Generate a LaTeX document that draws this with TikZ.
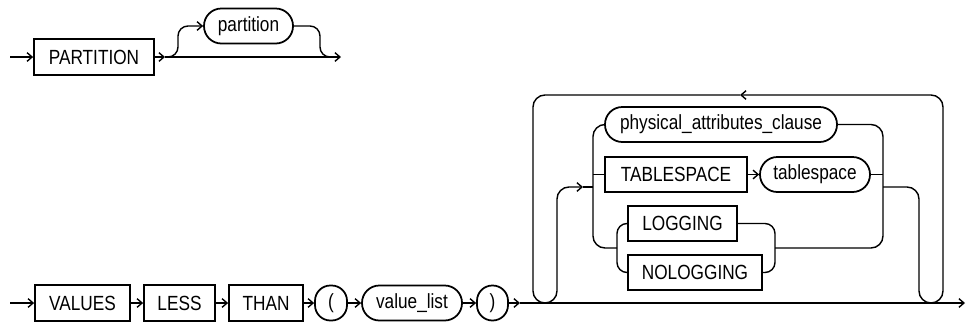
\documentclass[tikz,border=0pt]{standalone}
\usepackage{fontspec}
\newfontfamily\rrfont{Liberation Sans}[FakeStretch=0.84]
\usetikzlibrary{arrows.meta}

\begin{document}
\begin{tikzpicture}[
    x=0.03cm, y=-0.03cm,
    every node/.style={font=\rrfont\fontsize{17.5}{20}\selectfont, inner xsep=0pt, inner ysep=0pt},
    box/.style={rectangle, draw, line width=1.5pt, minimum height=1.07cm},
    oval/.style={rectangle, draw, line width=1.5pt, rounded corners=0.52cm, minimum height=1.05cm},
    paren/.style={oval, rounded corners=0.46cm},
    line/.style={line width=1.2pt, rounded corners=0.36cm},
    arrow/.style={line, -{Straight Barb[length=1.5mm,width=2.6mm]}}
]
\useasboundingbox (0,0) rectangle (968,325);

% PARTITION [partition]
\coordinate (in1) at (10,57);
\node[box, minimum width=3.6cm] (partkw) at (94,57) {PARTITION};
\coordinate (fork1) at (165,57);
\node[oval, minimum width=2.67cm] (part) at (248.5,26) {partition};
\coordinate (join1) at (331,57);
\coordinate (out1) at (341,57);

\draw[arrow] (in1) -- (partkw);
\draw[arrow] (partkw) -- (fork1);
\draw[arrow] (fork1) -- (out1);
\draw[arrow, rounded corners=0.3cm] (fork1) -| (178,26) -- (part.west);
\draw[line, rounded corners=0.3cm] (part.east) -| (320,57) -- (join1);

% VALUES LESS THAN ( value_list )
\coordinate (in2) at (10,303);
\node[box, minimum width=2.85cm] (values) at (82.5,303) {VALUES};
\node[box, minimum width=2.13cm] (less) at (179.5,303) {LESS};
\node[box, minimum width=2.22cm] (than) at (266,303) {THAN};
\node[paren, minimum width=0.96cm] (lpar) at (331,303) {(};
\node[oval, minimum width=3cm] (vlist) at (412,303) {value\_list};
\node[paren, minimum width=0.93cm] (rpar) at (492.5,303) {)};
\coordinate (fork2) at (520,303);
\coordinate (out2) at (965,303);

\draw[arrow] (in2) -- (values);
\draw[arrow] (values) -- (less);
\draw[arrow] (less) -- (than);
\draw[arrow] (than) -- (lpar);
\draw[arrow] (lpar) -- (vlist);
\draw[arrow] (vlist) -- (rpar);
\draw[arrow] (rpar) -- (fork2);
\draw[arrow] (fork2) -- (out2);

% repeated attributes
\node[oval, minimum width=6.96cm] (phys) at (721,124.5) {physical\_attributes\_clause};
\node[box, minimum width=4.26cm] (tskw) at (676,174.5) {TABLESPACE};
\node[oval, minimum width=3.3cm] (ts) at (815,174.5) {tablespace};
\node[box, minimum width=3.27cm] (log) at (682.5,223.5) {LOGGING};
\node[box, minimum width=4.02cm] (nolog) at (695,272.5) {NOLOGGING};

\coordinate (lu) at (545,303);
\coordinate (ru) at (931,303);
\coordinate (back) at (740,95);
\coordinate (go) at (583,187);
\coordinate (cl) at (593,187);
\coordinate (cr) at (883,187);
\coordinate (sl) at (617,248);
\coordinate (sr) at (775,248);

\draw[arrow] (ru) -| (943,95) -- (back);
\draw[line] (back) -| (533,303) -- (lu);
\draw[arrow] (lu) -| (557,187) -- (go);
\draw[line] (go) -- (cl);
\draw[line] (phys.west) -| (593,248) -- (sl);
\draw[line] (tskw.west -| cl) -- (tskw);
\draw[arrow] (tskw) -- (ts);
\draw[line] (phys.east) -| (883,248) -- (sr);
\draw[line] (ts.east) -- (ts.east -| cr);
\draw[line] (cr) -| (919,303) -- (ru);
\draw[line, rounded corners=0.3cm] (log.west) -| (617,272.5) -- (nolog.west);
\draw[line, rounded corners=0.3cm] (log.east) -| (775,272.5) -- (nolog.east);
\end{tikzpicture}
\end{document}
